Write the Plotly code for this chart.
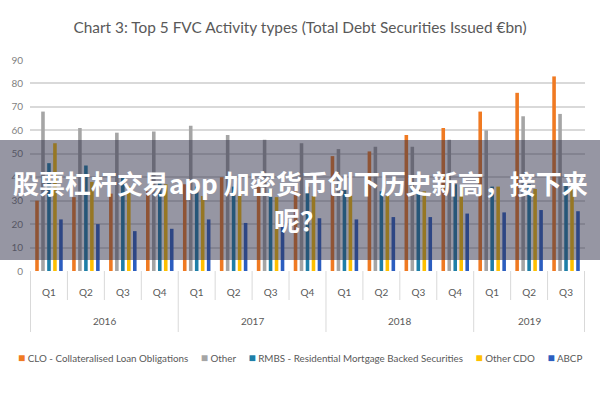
import plotly.graph_objects as go

years = ["2016"] * 4 + ["2017"] * 4 + ["2018"] * 4 + ["2019"] * 3
quarters = ["Q1", "Q2", "Q3", "Q4"] * 3 + ["Q1", "Q2", "Q3"]

clo = [30, 31.5, 33, 34, 37, 40, 37, 37, 49, 51, 58, 61, 68, 76, 83]
other = [68, 61, 59, 59.5, 62, 58, 56, 54.5, 52, 53, 53, 56, 60, 66, 67]
rmbs = [46, 45, 40, 38, 36, 36, 35, 36, 34.5, 34, 35, 37, 36, 37, 37]
other_cdo = [54.5, 38, 36, 37, 32, 34.5, 31.5, 32, 32, 32, 34, 36, 36, 35, 36]
abcp = [22, 20, 17, 18, 22, 20.5, 19, 22.5, 22, 23, 23, 24.5, 25, 26, 25.5]

series = [
    ("CLO - Collateralised Loan Obligations", clo, "#F07A22"),
    ("Other", other, "#A5A5A5"),
    ("RMBS - Residential Mortgage Backed Securities", rmbs, "#1E7FA8"),
    ("Other CDO", other_cdo, "#FFC000"),
    ("ABCP", abcp, "#2C5EC0"),
]

title_text = "Chart 3: Top 5 FVC Activity types (Total Debt Securities Issued €bn)"
overlay_line1 = "股票杠杆交易app 加密货币创下历史新高，接下来"
overlay_line2 = "呢？"

FONT = "Lato, sans-serif"
CJK = "Noto Sans CJK SC, sans-serif"
GRID = "#d9d9d9"

# plot area in pixels: x 30..585, y 60..271
PL, PR, PT, PB = 30, 585, 60, 271
PH = PB - PT


def py(pix):
    return (PB - pix) / PH


def px(pix):
    return (pix - PL) / (PR - PL)


cats = [f"{y} {q}" for y, q in zip(years, quarters)]

fig = go.Figure()
for name, vals, col in series:
    fig.add_trace(go.Bar(x=cats, y=vals, name=name, showlegend=False,
                         marker=dict(color=col, line=dict(width=0))))

shapes = []
annotations = []

# separators between quarters (short) and between years (long)
for i in range(len(cats) + 1):
    is_year_edge = i == 0 or i == len(cats) or years[i] != years[i - 1]
    shapes.append(dict(type="line", xref="x", yref="paper", x0=i - 0.5, x1=i - 0.5,
                       y0=0, y1=py(332) if is_year_edge else py(300),
                       line=dict(color=GRID, width=1), layer="below"))

# year labels centred on their quarters
seen = []
for y in years:
    if y not in seen:
        seen.append(y)
for y in seen:
    idx = [i for i, yy in enumerate(years) if yy == y]
    annotations.append(dict(text=y, xref="x", yref="paper", x=sum(idx) / len(idx),
                            y=py(321), xanchor="center", yanchor="middle", showarrow=False,
                            font=dict(family=FONT, size=10, color="#595959")))

# legend line
legend_parts = [f'<span style="color:{col};font-size:12px">■</span> {name}'
                for name, _, col in series]
annotations.append(dict(text="     ".join(legend_parts), xref="paper", yref="paper",
                        x=px(300), y=py(357), xanchor="center", yanchor="middle",
                        showarrow=False, font=dict(family=FONT, size=9.8, color="#595959")))

# overlay band
shapes.append(dict(type="rect", xref="paper", yref="paper", x0=-0.1, x1=1.1,
                   y0=py(260), y1=py(140), layer="above",
                   fillcolor="rgba(45,45,72,0.5)", line=dict(width=0)))
annotations.append(dict(text="<b>" + overlay_line1 + "</b>", xref="paper", yref="paper",
                        x=px(300), y=py(182), xanchor="center", yanchor="middle",
                        showarrow=False, font=dict(family=CJK, size=26, color="white")))
annotations.append(dict(text="<b>" + overlay_line2 + "</b>", xref="paper", yref="paper",
                        x=px(300), y=py(219), xanchor="center", yanchor="middle",
                        showarrow=False, font=dict(family=CJK, size=26, color="white")))

fig.update_layout(
    width=600, height=400,
    margin=dict(l=PL, r=600 - PR, t=PT, b=400 - PB),
    paper_bgcolor="white", plot_bgcolor="white",
    barmode="group", bargap=0.19, bargroupgap=0.4,
    showlegend=False,
    title=dict(text=title_text, x=0.5, xanchor="center", y=1 - 28 / 400, yanchor="middle",
               font=dict(family=FONT, size=15.4, color="#595959")),
    font=dict(family=FONT, color="#595959", size=10),
    xaxis=dict(type="category", tickmode="array", tickvals=cats, ticktext=quarters,
               showgrid=False, ticks="outside", ticklen=12, tickcolor="rgba(0,0,0,0)",
               showline=False, zeroline=False,
               tickfont=dict(family=FONT, size=10, color="#595959")),
    yaxis=dict(range=[0, 90], dtick=10, showgrid=True, gridcolor=GRID, gridwidth=1.5,
               zeroline=False, showline=False, ticks="", ticklabelstandoff=6,
               tickfont=dict(family=FONT, size=10, color="#7f7f7f")),
    shapes=shapes,
    annotations=annotations,
)

fig.write_html("out.html")
